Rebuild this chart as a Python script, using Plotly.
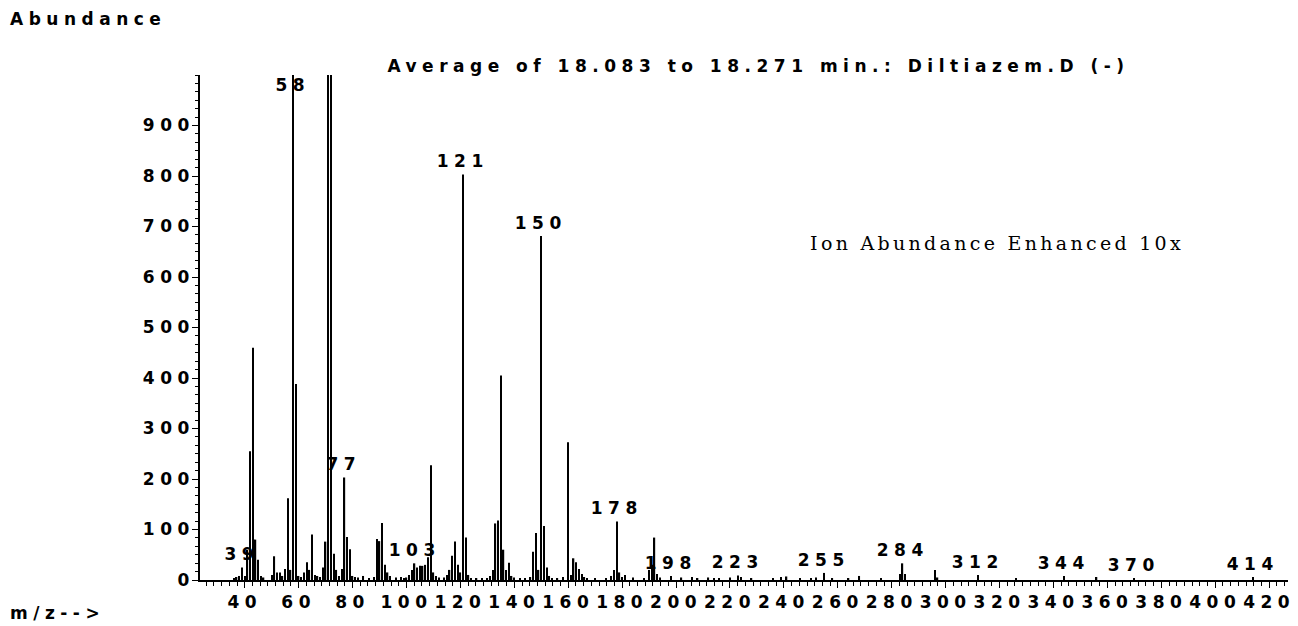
import plotly.graph_objects as go

# ---- data (m/z vs abundance, 10x enhanced) ----
mz = [36, 37, 38, 39, 40, 41, 42, 43, 44, 45, 46, 47, 50, 51, 52, 53, 54, 55, 56, 57,
      58, 59, 60, 61, 62, 63, 64, 65, 66, 67, 68, 69, 70, 71, 72, 73, 74, 75, 76, 77,
      78, 79, 80, 81, 82, 84, 86, 88, 89, 90, 91, 92, 93, 94, 96, 98, 99, 100, 101, 102,
      103, 104, 105, 106, 107, 108, 109, 110, 111, 112, 114, 115, 116, 117, 118, 119, 120, 121, 122, 123,
      124, 126, 128, 130, 131, 132, 133, 134, 135, 136, 137, 138, 139, 140, 142, 144, 146, 147, 148, 149,
      150, 151, 152, 153, 154, 156, 158, 160, 161, 162, 163, 164, 165, 166, 167, 170, 174, 176, 177, 178,
      179, 180, 181, 184, 188, 190, 191, 192, 193, 194, 198, 202, 206, 208, 212, 214, 216, 220, 223, 224,
      228, 236, 239, 241, 246, 250, 252, 255, 258, 264, 268, 276, 283, 284, 285, 296, 297, 312, 326, 344,
      356, 370, 414]
abundance = [3, 6, 8, 25, 8, 60, 255, 460, 80, 40, 8, 5, 10, 47, 15, 15, 8, 22, 162, 20,
             10000, 388, 8, 6, 15, 35, 20, 90, 10, 8, 6, 25, 76, 5000, 2500, 52, 20, 8, 22, 203,
             85, 61, 8, 6, 5, 8, 4, 6, 81, 77, 113, 30, 15, 8, 5, 6, 4, 5, 10, 20,
             33, 25, 28, 28, 30, 45, 227, 15, 8, 5, 5, 10, 20, 48, 76, 30, 15, 803, 84, 10,
             4, 3, 4, 3, 8, 20, 112, 118, 405, 60, 20, 34, 8, 5, 3, 4, 6, 56, 93, 20,
             681, 107, 25, 8, 4, 3, 6, 273, 10, 43, 35, 22, 12, 6, 4, 3, 3, 8, 20, 116,
             15, 6, 10, 5, 3, 20, 30, 84, 12, 5, 8, 5, 6, 4, 5, 3, 4, 5, 9, 6,
             4, 3, 6, 7, 3, 4, 5, 14, 4, 4, 8, 3, 12, 33, 12, 20, 5, 10, 3, 8,
             6, 3, 6]
labeled_mz = [39, 58, 77, 103, 121, 150, 178, 198, 223, 255, 284, 312, 344, 370, 414]

x_range = [23.4, 427.0]
y_range = [0, 1000]
x_tick_vals = list(range(40, 421, 20))
y_tick_vals = list(range(0, 901, 100))

title_text = "Average of 18.083 to 18.271 min.: Diltiazem.D (-)"
y_title_text = "Abundance"
x_title_text = "m/z-->"
note_text = "Ion Abundance Enhanced 10x"

# ---- styling ----
BLOCK = dict(family="DejaVu Sans", size=17, color="black", weight="bold")
SERIF = dict(family="DejaVu Serif", size=19, color="black")

fig = go.Figure()
fig.add_trace(go.Bar(x=mz, y=abundance, width=0.5,
                     marker=dict(color="black", line=dict(width=0)),
                     hoverinfo="x+y"))

value_of = dict(zip(mz, abundance))
annotations = []
for m in labeled_mz:
    v = value_of[m]
    if v >= y_range[1]:
        annotations.append(dict(x=m, y=y_range[1], xref="x", yref="y", text=str(m),
                                showarrow=False, xanchor="center", yanchor="top",
                                yshift=2, font=BLOCK))
    else:
        annotations.append(dict(x=m, y=v, xref="x", yref="y", text=str(m),
                                showarrow=False, xanchor="center", yanchor="bottom",
                                yshift=1, font=BLOCK))

annotations.append(dict(x=-0.1764, y=1.11, xref="paper", yref="paper", text=y_title_text,
                        showarrow=False, xanchor="left", yanchor="middle", align="left",
                        font=BLOCK))
annotations.append(dict(x=-0.1764, y=-0.066, xref="paper", yref="paper", text=x_title_text,
                        showarrow=False, xanchor="left", yanchor="middle", align="left",
                        font=BLOCK))
annotations.append(dict(x=0.7325, y=0.667, xref="paper", yref="paper", text=note_text,
                        showarrow=False, xanchor="center", yanchor="middle",
                        font=SERIF))

fig.update_layout(
    width=1298, height=626,
    margin=dict(l=200, r=10, t=75, b=46, pad=0),
    paper_bgcolor="white", plot_bgcolor="white",
    showlegend=False,
    title=dict(text=title_text, x=0.5844, y=0.8938, xanchor="center", yanchor="middle",
               xref="container", yref="container", font=BLOCK),
    annotations=annotations,
    xaxis=dict(range=x_range, tickmode="array", tickvals=x_tick_vals,
               ticktext=[str(v) for v in x_tick_vals],
               showgrid=False, zeroline=False, showline=True, linecolor="black", linewidth=1.5,
               ticks="outside", ticklen=6, tickwidth=1.3, tickcolor="black",
               tickfont=BLOCK, tickangle=0,
               minor=dict(dtick=20 / 7, tick0=40, ticks="outside", ticklen=4,
                          tickwidth=1, tickcolor="black", showgrid=False)),
    yaxis=dict(range=y_range, tickmode="array", tickvals=y_tick_vals,
               ticktext=[str(v) for v in y_tick_vals],
               showgrid=False, zeroline=False, showline=True, linecolor="black", linewidth=1.5,
               ticks="outside", ticklen=6, tickwidth=1.3, tickcolor="black",
               tickfont=BLOCK, ticklabelstandoff=-6,
               minor=dict(dtick=100 / 6, tick0=0, ticks="outside", ticklen=3,
                          tickwidth=1, tickcolor="black", showgrid=False)),
)

post = """
document.documentElement.style.margin = '0';
document.body.style.margin = '0';
document.body.style.overflow = 'hidden';
var s = document.createElement('style');
s.textContent = 'html, body {margin:0; padding:0;}' +
                ' .xtick text, .ytick text, .gtitle, .annotation-text {letter-spacing: 5.5px;}' +
                ' text.annotation-text[style*="Serif"] {letter-spacing: 3.3px;}';
document.head.appendChild(s);
"""

fig.write_html("out.html", post_script=post, config={"displayModeBar": False})
